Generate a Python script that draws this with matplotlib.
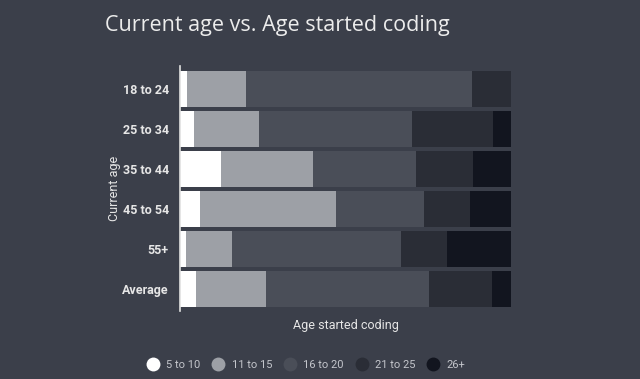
import matplotlib.pyplot as plt
from matplotlib.lines import Line2D

# current age groups (top to bottom)
groups = ['18 to 24', '25 to 34', '35 to 44', '45 to 54', '55+', 'Average']
# share (%) of each group by age they started coding
started = ['5 to 10', '11 to 15', '16 to 20', '21 to 25', '26+']
s_5_10 = [2.1, 4.2, 12.4, 6.0, 1.8, 4.8]
s_11_15 = [17.8, 19.6, 27.8, 41.0, 13.9, 21.1]
s_16_20 = [68.3, 46.2, 31.1, 26.6, 51.0, 49.2]
s_21_25 = [11.8, 24.5, 17.2, 13.9, 13.9, 19.3]
s_26 = [0.0, 5.5, 11.5, 12.5, 19.4, 5.6]

bg = '#3b3f4a'
colors = ['#ffffff', '#9da0a6', '#4a4e58', '#2a2d36', '#12151f']
series = [s_5_10, s_11_15, s_16_20, s_21_25, s_26]

fig = plt.figure(figsize=(6.4, 3.79), dpi=100, facecolor=bg)
ax = fig.add_axes([0.28125, 0.1794, 0.5172, 0.6465], facecolor=bg)

ypos = list(range(len(groups)))
left = [0] * len(groups)
for vals, c in zip(series, colors):
    ax.barh(ypos, vals, left=left, height=0.9, color=c, linewidth=0)
    left = [l + v for l, v in zip(left, vals)]

ax.set_xlim(0, 100)
ax.set_ylim(5.55, -0.575)
ax.set_yticks(ypos)
ax.set_yticklabels(groups, fontsize=9, color='#e6e6e6', family='Roboto', weight='bold')
ax.tick_params(axis='y', length=0, pad=8)
ax.set_xticks([])
for s in ['top', 'right', 'bottom']:
    ax.spines[s].set_visible(False)
ax.spines['left'].set_color('#e0e0e0')
ax.spines['left'].set_linewidth(1.2)

ax.set_ylabel('Current age', fontsize=9, color='#e6e6e6', family='Roboto', labelpad=1)
ax.set_xlabel('Age started coding', fontsize=9, color='#e6e6e6', family='Roboto', labelpad=6)

fig.text(105 / 640, 1 - 25 / 379, 'Current age vs. Age started coding', fontsize=15.5,
         color='#ececec', family='Open Sans', va='center', ha='left')

handles = [Line2D([], [], marker='o', linestyle='', markersize=10, markerfacecolor=c,
                  markeredgewidth=0) for c in colors]
leg = fig.legend(handles, started, loc='center', bbox_to_anchor=(0.478, 0.037), ncol=5,
                 frameon=False, handletextpad=0.6, columnspacing=1.0, handlelength=1.2,
                 prop={'family': 'Roboto', 'size': 8})
for t in leg.get_texts():
    t.set_color('#c4c6cc')

fig.savefig('out.png', dpi=100, facecolor=bg)
